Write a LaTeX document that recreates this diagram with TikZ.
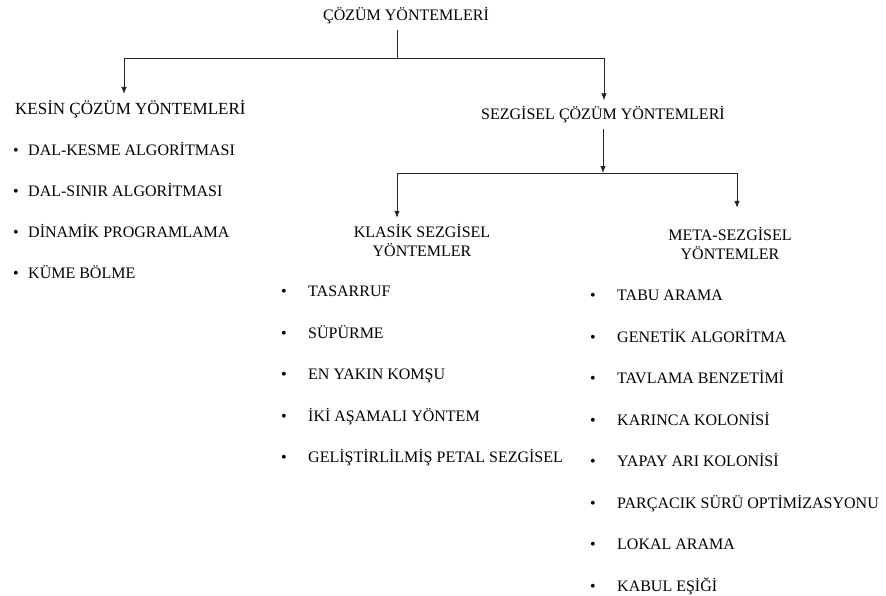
\documentclass[tikz,border=0pt]{standalone}
\usepackage{fontspec}
\setmainfont{Liberation Serif}
\usetikzlibrary{arrows.meta}
\tikzset{
  lbl/.style={inner sep=0pt, outer ysep=6pt, font=\fontsize{16}{19}\selectfont},
  item/.style={lbl, anchor=base west},
  bul/.style={lbl, anchor=base},
  con/.style={draw=black!85, line width=0.8pt},
  arr/.style={con, -{Latex[length=7pt,width=5.5pt]}}
}
\begin{document}
\begin{tikzpicture}[x=1pt, y=1pt, line join=miter]
\useasboundingbox (0,0) rectangle (886,-595);
% basliklar
\node[lbl, anchor=base] (cozum) at (406,-20.5) {ÇÖZÜM YÖNTEMLERİ};
\node[lbl, anchor=base west, font=\fontsize{17}{20}\selectfont] (kesin) at (15,-114) {KESİN ÇÖZÜM YÖNTEMLERİ};
\node[lbl, anchor=base] (sezgisel) at (603,-119.5) {SEZGİSEL ÇÖZÜM YÖNTEMLERİ};
\node[lbl, align=center] (klasik) at (422,-240) {KLASİK SEZGİSEL\\YÖNTEMLER};
\node[lbl, align=center] (meta) at (730,-243) {META-SEZGİSEL\\YÖNTEMLER};
% kollar
\coordinate (j1) at (397,-58);
\coordinate (a1) at (124,-58);
\coordinate (a2) at (604,-58);
\coordinate (j2) at (603,-173);
\coordinate (b1) at (397,-173);
\coordinate (b2) at (737,-173);
\draw[con] (cozum.south -| j1) -- (j1);
\draw[arr] (j1) -- (a1) -- (a1 |- kesin.north);
\draw[arr] (j1) -- (a2) -- (a2 |- sezgisel.north);
\draw[arr] (sezgisel.south) -- (j2);
\draw[arr] (j2) -- (b1) -- (b1 |- klasik.north);
\draw[arr, shorten >=13pt] (j2) -- (b2) -- (b2 |- meta.north);
% listeler
\foreach \t [count=\i] in {DAL-KESME ALGORİTMASI, DAL-SINIR ALGORİTMASI, DİNAMİK PROGRAMLAMA, KÜME BÖLME}{
  \node[bul] at (16,{-114.5-41*\i}) {•};
  \node[item] (kes\i) at (28,{-114.5-41*\i}) {\t};
}
\foreach \t [count=\i] in {TASARRUF, SÜPÜRME, EN YAKIN KOMŞU, İKİ AŞAMALI YÖNTEM, GELİŞTİRLİLMİŞ PETAL SEZGİSEL}{
  \node[bul] at (284,{-255-41.5*\i}) {•};
  \node[item] (kla\i) at (308,{-255-41.5*\i}) {\t};
}
\foreach \t [count=\i] in {TABU ARAMA, GENETİK ALGORİTMA, TAVLAMA BENZETİMİ, KARINCA KOLONİSİ, YAPAY ARI KOLONİSİ, PARÇACIK SÜRÜ OPTİMİZASYONU, LOKAL ARAMA, KABUL EŞİĞİ}{
  \node[bul] at (593,{-259-41.5*\i}) {•};
  \node[item] (met\i) at (617,{-259-41.5*\i}) {\t};
}
\end{tikzpicture}
\end{document}
